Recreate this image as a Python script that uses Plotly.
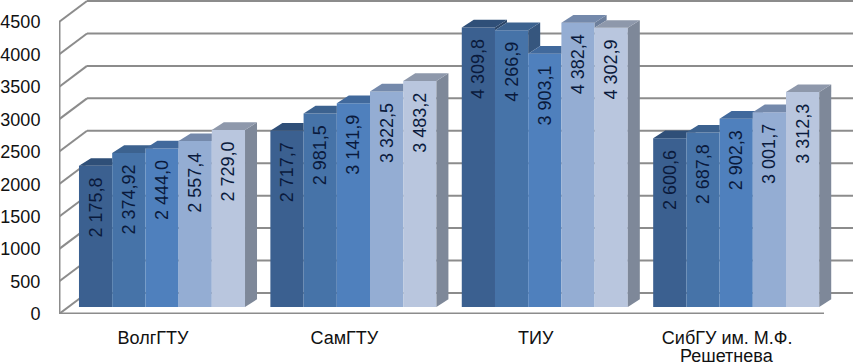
import plotly.graph_objects as go

categories = ["ВолгГТУ", "СамГТУ", "ТИУ", "СибГУ им. М.Ф."]
last_category_line2 = "Решетнева"
s1 = [2175.8, 2717.7, 4309.8, 2600.6]
s2 = [2374.92, 2981.5, 4266.9, 2687.8]
s3 = [2444.0, 3141.9, 3903.1, 2902.3]
s4 = [2557.4, 3322.5, 4382.4, 3001.7]
s5 = [2729.0, 3483.2, 4302.9, 3312.3]
l1 = ["2 175,8", "2 717,7", "4 309,8", "2 600,6"]
l2 = ["2 374,92", "2 981,5", "4 266,9", "2 687,8"]
l3 = ["2 444,0", "3 141,9", "3 903,1", "2 902,3"]
l4 = ["2 557,4", "3 322,5", "4 382,4", "3 001,7"]
l5 = ["2 729,0", "3 483,2", "4 302,9", "3 312,3"]
y_ticks = [0, 500, 1000, 1500, 2000, 2500, 3000, 3500, 4000, 4500]

series = [s1, s2, s3, s4, s5]
labels = [l1, l2, l3, l4, l5]
front = ["#3b6090", "#4673a8", "#4f80bd", "#94add3", "#b9c6de"]
top = ["#2f4f78", "#3c628f", "#41699c", "#7489ab", "#8e98ab"]
side = ["#2c4668", "#36567e", "#3b5e8a", "#6d7f9c", "#7e8899"]

W, H = 853, 364
PX_X = 191.4          # pixels per category
PX_Y = 32.44 / 500    # pixels per unit
x0_px, y0_px = 59, 314
LEFT = (x0_px - 162) / PX_X
RIGHT = (W - 162) / PX_X
FRONT = -7 / PX_Y     # front plane relative to the bars
BACK = 14 / PX_Y      # back plane relative to the bars
BACK_X = (87 - 162) / PX_X
FLOOR_END = (824 - 162) / PX_X
DX = 12 / PX_X
DV = 7.7 / PX_Y
BARGAP = 0.1325
BW = (1 - BARGAP) / 5
FONT = "Liberation Sans, Arial, sans-serif"
GRID = "#8c8c8c"

fig = go.Figure()
idx = list(range(len(categories)))
for i, vals in enumerate(series):
    fig.add_trace(go.Bar(x=idx, y=vals, marker=dict(color=front[i], line=dict(width=0)),
                         text=[t + "\u00a0\u2009" for t in labels[i]], textposition="inside",
                         insidetextanchor="end", textangle=-90,
                         insidetextfont=dict(family=FONT, size=18, color="#0a1a3c"),
                         constraintext="none", showlegend=False, hoverinfo="skip"))

def poly(xs, ys, color):
    fig.add_trace(go.Scatter(x=xs + xs[:1], y=ys + ys[:1], mode="lines", fill="toself",
                             fillcolor=color, line=dict(width=0), showlegend=False,
                             hoverinfo="skip"))

for g in idx:
    for i, vals in enumerate(series):
        v = vals[g]
        vn = series[i + 1][g] if i < 4 else 0
        l = g + (i - 2.5) * BW
        r = l + BW
        if vn < v:
            poly([r, r + DX, r + DX, r], [v, v + DV, vn + DV, vn], side[i])
        if vn >= v + DV:
            poly([l, l + DX, r, r], [v, v + DV, v + DV, v], top[i])
        elif vn > v:
            t = DX * (vn - v) / DV
            poly([l, l + DX, r + DX, r + t, r, r], [v, v + DV, v + DV, vn, vn, v], top[i])
        else:
            poly([l, l + DX, r + DX, r], [v, v + DV, v + DV, v], top[i])

shapes = []
ln = dict(color=GRID, width=2)
for v in y_ticks:
    shapes.append(dict(type="line", layer="below", xref="x", yref="y", x0=LEFT, x1=BACK_X,
                       y0=v + FRONT, y1=v + BACK, line=ln))
    shapes.append(dict(type="line", layer="below", xref="x", yref="y", x0=BACK_X, x1=RIGHT,
                       y0=v + BACK, y1=v + BACK, line=ln))
shapes.append(dict(type="line", layer="below", xref="x", yref="y", x0=LEFT, x1=LEFT,
                   y0=FRONT, y1=y_ticks[-1] + FRONT, line=dict(color=GRID, width=3)))
shapes.append(dict(type="line", layer="below", xref="x", yref="y", x0=LEFT, x1=FLOOR_END,
                   y0=FRONT, y1=FRONT, line=dict(color=GRID, width=3)))

tick_positions = [g - 9 / PX_X for g in idx]
fig.update_layout(
    width=W, height=H, autosize=False, margin=dict(l=0, r=0, t=0, b=0, autoexpand=False),
    paper_bgcolor="white", plot_bgcolor="white",
    barmode="group", bargap=BARGAP, bargroupgap=0, showlegend=False, shapes=shapes,
    font=dict(family=FONT, size=18, color="#111111"),
    xaxis=dict(domain=[x0_px / W, 1], range=[LEFT, RIGHT], showgrid=False, zeroline=False,
               showline=False, tickmode="array", automargin=False,
               tickvals=tick_positions, ticktext=categories,
               ticks="outside", ticklen=7, tickcolor="rgba(0,0,0,0)", tickangle=0,
               tickfont=dict(size=18)),
    yaxis=dict(domain=[(H - y0_px) / H, 1], range=[FRONT, FRONT + y0_px / PX_Y],
               showgrid=False, zeroline=False, showline=False, tickmode="array", automargin=False,
               tickvals=[v + FRONT for v in y_ticks], ticktext=[str(v) for v in y_ticks],
               ticks="outside", ticklen=14, tickcolor="rgba(0,0,0,0)",
               tickfont=dict(size=18)),
    annotations=[dict(x=tick_positions[-1], xref="x", y=FRONT, yref="y", yshift=-30,
                      yanchor="top", text=last_category_line2, showarrow=False,
                      font=dict(family=FONT, size=18, color="#111111"))],
)
fig.write_html("out.html", config={"displayModeBar": False},
               post_script="document.documentElement.style.margin='0';document.body.style.margin='0';document.body.style.overflow='hidden';")
